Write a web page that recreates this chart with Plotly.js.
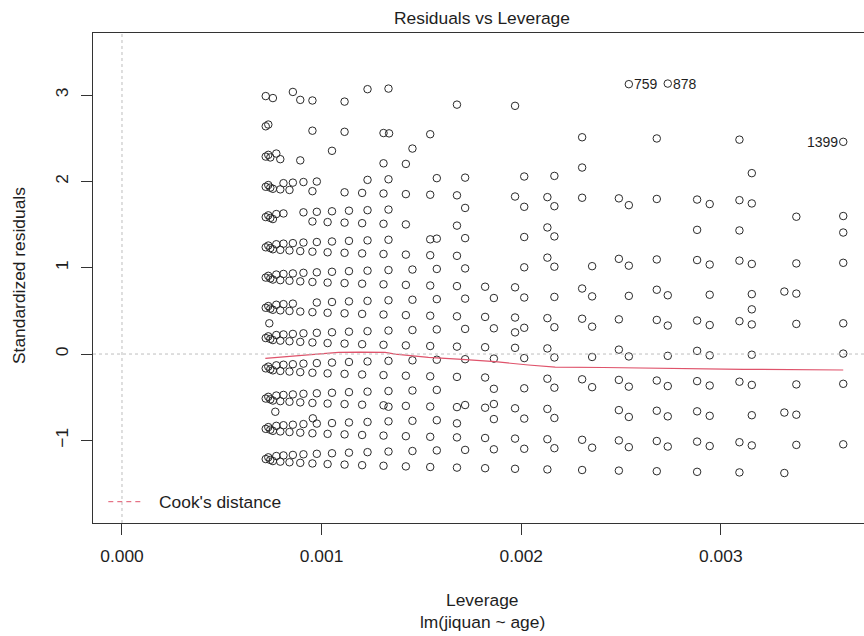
<!DOCTYPE html>
<html><head><meta charset="utf-8">
<script src="https://cdn.plot.ly/plotly-3.0.1.min.js"></script>
<style>html,body{margin:0;padding:0;overflow:hidden;background:#fff}</style>
</head><body><div id="chart" style="width:864px;height:636px"></div>
<script>
// ---- data ----
// leftmost dense cluster of leverage columns
const leverageBlob = [0.000720, 0.000733, 0.000743];
const residualsBlob = [
  [-1.217, -0.867, -0.516, -0.166, 0.185, 0.536, 0.886, 1.237, 1.587, 1.938, 2.288, 2.639, 2.989],
  [-1.197, -0.847, -0.496, -0.146, 0.205, 0.556, 0.906, 1.257, 1.607, 1.958, 2.308, 2.659],
  [-1.227, -0.877, -0.526, -0.176, 0.175, 0.526, 0.876, 1.227, 1.577, 1.928, 2.278]
];
// columns whose residual levels drift downward with leverage
const leverageL = [0.000756, 0.000793, 0.000839, 0.000893, 0.000954, 0.001030, 0.001115, 0.001203, 0.001310, 0.001422,
  0.001544, 0.001678, 0.001819, 0.001969, 0.002131, 0.002305, 0.002489, 0.002679, 0.002881, 0.003093, 0.003318];
const residualsL = [
  [-1.240, -0.890, -0.539, -0.189, 0.162, 0.513, 0.863, 1.214, 1.564, 1.915, 2.966],
  [-1.247, -0.897, -0.546, -0.196, 0.155, 0.506, 0.856, 1.207, 1.908, 2.258],
  [-1.254, -0.904, -0.553, -0.203, 0.148, 0.499, 0.849, 1.200, 1.901],
  [-1.261, -0.911, -0.560, -0.210, 0.141, 0.492, 0.842, 1.193, 2.244, 2.945],
  [-1.268, -0.918, -0.567, -0.217, 0.134, 0.485, 0.835, 1.186, 1.536, 1.887, 2.588, 2.938],
  [-1.275, -0.925, -0.574, -0.224, 0.127, 0.478, 0.828, 1.179, 1.529],
  [-1.281, -0.931, -0.580, -0.230, 0.121, 0.472, 0.822, 1.173, 1.523, 1.874, 2.575, 2.925],
  [-1.288, -0.938, -0.587, -0.237, 0.114, 0.465, 0.815, 1.166, 1.516, 1.867],
  [-1.295, -0.945, -0.594, -0.244, 0.107, 0.458, 0.808, 1.159, 1.509, 1.860, 2.210, 2.561],
  [-1.302, -0.952, -0.601, -0.251, 0.100, 0.451, 0.801, 1.152, 1.502, 1.853, 2.203],
  [-1.309, -0.959, -0.608, -0.258, 0.093, 0.444, 0.794, 1.145, 1.846, 2.547],
  [-1.316, -0.966, -0.615, -0.265, 0.086, 0.437, 0.787, 1.138, 1.488, 1.839, 2.890],
  [-1.323, -0.973, -0.622, -0.272, 0.079, 0.430, 0.780],
  [-1.330, -0.980, -0.629, 0.072, 0.423, 0.773, 1.825, 2.876],
  [-1.337, -0.987, -0.636, -0.286, 0.065, 0.416, 1.117, 1.467, 1.818],
  [-1.344, -0.994, -0.293, 0.409, 0.759, 1.811, 2.161, 2.512],
  [-1.351, -1.001, -0.650, -0.300, 0.051, 0.402, 1.103, 1.804],
  [-1.358, -1.008, -0.657, -0.307, 0.395, 0.745, 1.096, 1.797, 2.498],
  [-1.365, -1.015, -0.664, -0.314, 0.037, 0.388, 1.089, 1.439, 1.790],
  [-1.372, -1.022, -0.321, 0.381, 1.082, 1.432, 1.783, 2.484],
  [-1.379, -0.678, 0.724]
];
// columns whose residual levels drift upward with leverage
const leverageU = [0.000773, 0.000809, 0.000856, 0.000909, 0.000976, 0.001052, 0.001137, 0.001230, 0.001335, 0.001455, 0.001577,
  0.001719, 0.001863, 0.002015, 0.002166, 0.002355, 0.002539, 0.002734, 0.002944, 0.003155, 0.003378, 0.003613];
const residualsU = [
  [-1.182, -0.832, -0.481, -0.131, 0.220, 0.571, 0.921, 1.272, 1.622, 2.323],
  [-1.175, -0.825, -0.474, -0.124, 0.227, 0.578, 0.928, 1.279, 1.629, 1.980],
  [-1.169, -0.819, -0.468, -0.118, 0.233, 0.584, 0.934, 1.285, 1.986, 3.037],
  [-1.162, -0.812, -0.461, -0.111, 0.240, 0.941, 1.292, 1.642, 1.993],
  [-1.156, -0.806, -0.455, -0.105, 0.246, 0.597, 0.947, 1.298, 1.648, 1.999],
  [-1.150, -0.800, -0.449, -0.099, 0.252, 0.603, 0.953, 1.304, 1.654, 2.355],
  [-1.143, -0.793, -0.442, -0.092, 0.259, 0.610, 0.960, 1.311, 1.661],
  [-1.137, -0.787, -0.436, -0.086, 0.265, 0.616, 0.966, 1.317, 1.667, 2.018, 3.069],
  [-1.130, -0.780, -0.429, -0.079, 0.272, 0.623, 0.973, 1.324, 1.674, 2.025, 3.076],
  [-1.124, -0.774, -0.423, -0.073, 0.278, 0.629, 0.979, 2.381],
  [-1.117, -0.767, -0.416, -0.066, 0.285, 0.636, 0.986, 1.337, 2.038],
  [-1.111, -0.060, 0.291, 0.642, 0.992, 1.343, 1.693, 2.044],
  [-1.104, -0.754, -0.403, -0.053, 0.298, 0.649],
  [-1.098, -0.748, -0.397, -0.047, 0.304, 0.655, 1.005, 1.356, 1.706, 2.057],
  [-1.091, -0.741, -0.390, -0.040, 0.311, 0.662, 1.012, 1.363, 1.713, 2.064],
  [-1.085, -0.384, -0.034, 0.317, 0.668, 1.018],
  [-1.079, -0.729, -0.378, -0.028, 0.674, 1.024, 1.725, 3.127],
  [-1.072, -0.722, -0.371, -0.021, 0.330, 0.681, 3.134],
  [-1.066, -0.716, -0.365, -0.015, 0.336, 0.687, 1.037, 1.738],
  [-1.059, -0.709, -0.358, -0.008, 0.343, 0.694, 1.044, 1.745, 2.096],
  [-1.053, -0.703, -0.352, 0.349, 0.700, 1.050],
  [-1.046, -0.345, 0.005, 0.356, 1.057, 1.408, 2.459]
];
// isolated points off the regular levels
const leverageExtra = [0.000738, 0.000768, 0.000956, 0.001335, 0.001338, 0.001544, 0.001678, 0.001719, 0.001863, 0.001969, 0.003155, 0.003378, 0.003613];
const residualsExtra = [0.356, -0.669, -0.745, -0.611, 2.557, 1.329, -0.803, -0.591, -0.579, 0.251, 0.518, 1.591, 1.599];
// smoother (red line)
const smoothLeverage = [0.000718, 0.000876, 0.000993, 0.001085, 0.001193, 0.001318, 0.001369, 0.001535, 0.001703, 0.001869, 0.002036, 0.002170, 0.002412, 0.002796, 0.003113, 0.003613];
const smoothResidual = [-0.050, -0.020, 0.006, 0.020, 0.023, 0.020, 0.000, -0.038, -0.061, -0.089, -0.127, -0.151, -0.156, -0.168, -0.177, -0.185];
// labelled observations
const labelIds = ['759', '878', '1399'];
const labelLeverage = [0.002539, 0.002734, 0.003613];
const labelResidual = [3.127, 3.134, 2.459];
const labelSide = ['right', 'right', 'left'];
// axes
const xTicks = [0, 0.001, 0.002, 0.003];
const xTickLabels = ['0.000', '0.001', '0.002', '0.003'];
const yTicks = [-1, 0, 1, 2, 3];

// ---- build ----
const W = 864, H = 636, ML = 93, MR = 0, MT = 33, MB = 113;
const PW = W - ML - MR, PH = H - MT - MB;
const px = v => (v - ML) / PW;
const py = v => (H - MB - v) / PH;

const xs = [], ys = [];
function addCols(levs, res) {
  levs.forEach((lv, i) => res[i].forEach(r => { xs.push(lv); ys.push(r); }));
}
addCols(leverageBlob, residualsBlob);
addCols(leverageL, residualsL);
addCols(leverageU, residualsU);
leverageExtra.forEach((lv, i) => { xs.push(lv); ys.push(residualsExtra[i]); });

const FONT = 'Liberation Sans, Arial, sans-serif';
const TXT = '#1e1e1e';
const FS = 17.4;

const traces = [
  { type: 'scatter', mode: 'markers', x: xs, y: ys, hoverinfo: 'skip',
    marker: { symbol: 'circle-open', size: 7.5, color: '#2a2a2a', line: { width: 1, color: '#2a2a2a' } } },
  { type: 'scatter', mode: 'lines', x: smoothLeverage, y: smoothResidual, hoverinfo: 'skip',
    line: { color: '#DF536B', width: 1.2 } }
];

const annotations = [
  { text: 'Residuals vs Leverage', xref: 'paper', yref: 'paper', x: px(482.4), y: py(18), xanchor: 'center', yanchor: 'middle', showarrow: false, font: { family: FONT, size: FS, color: TXT } },
  { text: 'Leverage', xref: 'paper', yref: 'paper', x: px(482.4), y: py(600), xanchor: 'center', yanchor: 'middle', showarrow: false, font: { family: FONT, size: FS, color: TXT } },
  { text: 'lm(jiquan ~ age)', xref: 'paper', yref: 'paper', x: px(482.4), y: py(621.5), xanchor: 'center', yanchor: 'middle', showarrow: false, font: { family: FONT, size: FS, color: TXT } },
  { text: 'Standardized residuals', xref: 'paper', yref: 'paper', x: px(19), y: py(276), xanchor: 'center', yanchor: 'middle', textangle: -90, showarrow: false, font: { family: FONT, size: FS, color: TXT } },
  { text: "Cook's distance", xref: 'paper', yref: 'paper', x: px(156.5), y: py(502), xanchor: 'left', yanchor: 'middle', showarrow: false, font: { family: FONT, size: FS, color: TXT } }
];
labelIds.forEach((t, i) => {
  annotations.push({ text: t, xref: 'x', yref: 'y', x: labelLeverage[i], y: labelResidual[i],
    xanchor: labelSide[i] === 'right' ? 'left' : 'right', yanchor: 'middle',
    xshift: labelSide[i] === 'right' ? 3 : -3, showarrow: false,
    font: { family: FONT, size: 14, color: TXT } });
});

const shapes = [
  { type: 'line', xref: 'paper', yref: 'y', x0: 0, x1: 1, y0: 0, y1: 0, line: { color: '#BEBEBE', width: 1, dash: 'dot' } },
  { type: 'line', xref: 'x', yref: 'paper', x0: 0, x1: 0, y0: 0, y1: 1, line: { color: '#BEBEBE', width: 1, dash: 'dot' } },
  { type: 'line', xref: 'paper', yref: 'paper', x0: px(108.3), x1: px(141.7), y0: py(501.7), y1: py(501.7), line: { color: '#DF536B', width: 1, dash: '5px,4px' } }
];

const layout = {
  width: W, height: H,
  margin: { l: ML, r: MR, t: MT, b: MB, pad: 0 },
  paper_bgcolor: '#fff', plot_bgcolor: '#fff',
  showlegend: false,
  font: { family: FONT, size: FS, color: TXT },
  xaxis: {
    range: [-0.0001452, 0.003717], tickvals: xTicks, ticktext: xTickLabels,
    showgrid: false, zeroline: false, showline: true, mirror: true, linecolor: '#333', linewidth: 1,
    ticks: 'outside', ticklen: 11, tickcolor: '#333', tickwidth: 1,
    tickfont: { family: FONT, size: FS, color: TXT }, ticklabelstandoff: 6
  },
  yaxis: {
    range: [-1.958, 3.720], tickvals: yTicks,
    showgrid: false, zeroline: false, showline: true, mirror: false, linecolor: '#333', linewidth: 1,
    ticks: 'outside', ticklen: 11, tickcolor: '#333', tickwidth: 1, tickangle: -90,
    tickfont: { family: FONT, size: FS, color: TXT }, ticklabelstandoff: 6
  },
  annotations: annotations,
  shapes: shapes
};

Plotly.newPlot('chart', traces, layout, { displayModeBar: false, staticPlot: true });
</script></body></html>
